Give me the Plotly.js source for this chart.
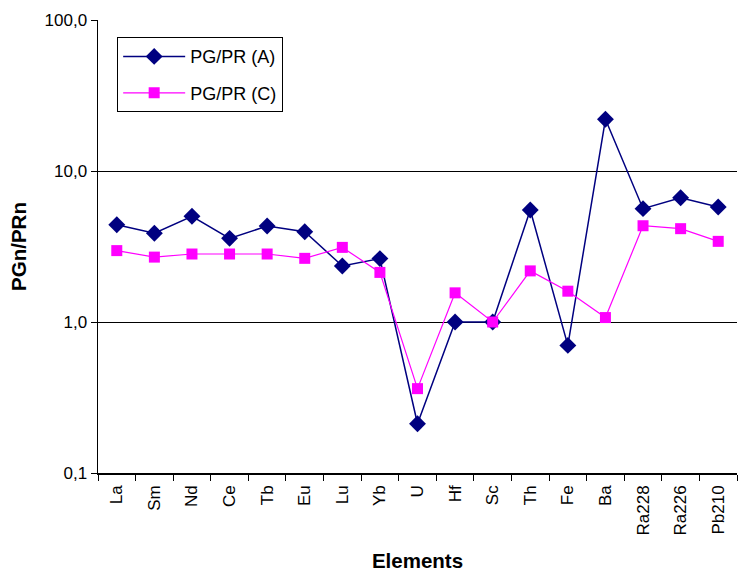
<!DOCTYPE html>
<html>
<head>
<meta charset="utf-8">
<script src="https://cdn.plot.ly/plotly-3.0.1.min.js"></script>
<style>html,body{margin:0;padding:0;background:#fff;}#chart{width:738px;height:572px;}</style>
</head>
<body>
<div id="chart"></div>
<script>
var categories = ["La","Sm","Nd","Ce","Tb","Eu","Lu","Yb","U","Hf","Sc","Th","Fe","Ba","Ra228","Ra226","Pb210"];
var seriesA = [4.41,3.87,5.01,3.58,4.32,3.96,2.35,2.63,0.212,1.0,1.0,5.52,0.70,22.0,5.63,6.65,5.78];
var seriesC = [2.97,2.69,2.82,2.82,2.82,2.64,3.12,2.13,0.362,1.56,1.0,2.18,1.60,1.07,4.34,4.15,3.42];
var yTickVals = [0.1,1,10,100];
var yTickText = ["0,1","1,0","10,0","100,0"];
var nameA = "PG/PR (A)";
var nameC = "PG/PR (C)";

var font = "Liberation Sans, Arial, sans-serif";
var traces = [
  {x: categories, y: seriesA, name: nameA, type: "scatter", mode: "lines+markers",
   legendgroup: "a",
   line: {color: "#000080", width: 1.5},
   marker: {symbol: "diamond", size: 13, color: "#000080"}},
  {x: categories, y: seriesC, name: nameC, type: "scatter", mode: "lines+markers",
   legendgroup: "c",
   line: {color: "#FF00FF", width: 1.2},
   marker: {symbol: "square", size: 11, color: "#FF00FF"}}
];
var layout = {
  width: 738, height: 572,
  margin: {l: 98, r: 1, t: 20, b: 99},
  paper_bgcolor: "#fff", plot_bgcolor: "#fff",
  font: {family: font, size: 17, color: "#000"},
  showlegend: true,
  legend: {x: 0.03, y: 0.962, xanchor: "left", yanchor: "top",
    bordercolor: "#000", borderwidth: 1, bgcolor: "#fff",
    font: {family: font, size: 18, color: "#000"},
    itemwidth: 62,
    traceorder: "grouped", tracegroupgap: 10},
  xaxis: {type: "category", tickson: "boundaries", ticks: "outside", ticklen: 6,
    tickcolor: "#000", showline: true, linecolor: "#000", linewidth: 1.5,
    showgrid: false, tickangle: -90, tickfont: {family: font, size: 17},
    ticklabelstandoff: 4,
    range: [-0.5, 16.5], fixedrange: true,
    title: {text: "<b>Elements</b>", font: {family: font, size: 20.5}, standoff: 27}},
  yaxis: {type: "log", range: [-1, 2], tickvals: yTickVals, ticktext: yTickText,
    ticks: "outside", ticklen: 6, tickcolor: "#000",
    showline: true, linecolor: "#000", linewidth: 1.5,
    showgrid: true, gridcolor: "#000", gridwidth: 1, zeroline: false,
    tickfont: {family: font, size: 17},
    title: {text: "<b>PGn/PRn</b>", font: {family: font, size: 20.5}, standoff: 12}}
};
Plotly.newPlot("chart", traces, layout, {displayModeBar: false, staticPlot: true});
</script>
</body>
</html>
